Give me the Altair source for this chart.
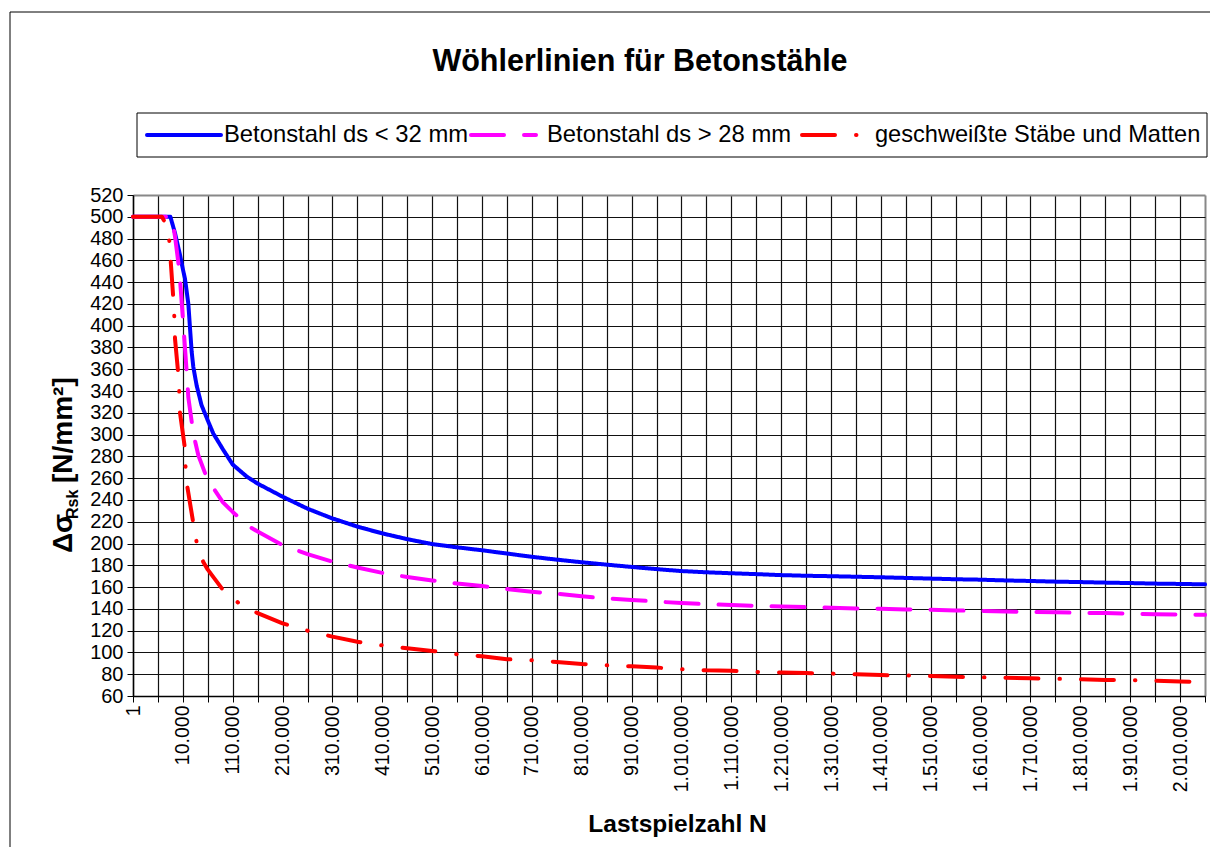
import altair as alt
import pandas as pd

FONT = "Liberation Sans"

SERIES = ["Betonstahl ds < 32 mm", "Betonstahl ds > 28 mm", "geschweißte Stäbe und Matten"]
COLORS = ["#0000FF", "#FF00FF", "#FF0000"]
DASHES = [[1, 0], [33, 20], [33, 21, 0.5, 21]]

# category positions 210.000 ... 2.060.000 (one every vertical grid line)
GRID_N = list(range(210000, 2060001, 50000))

blue_N = [1, 7500, 8425, 9425, 10000, 14300, 21000, 24300, 27700, 31000, 37700,
          47500, 60000, 71000, 91000, 110000, 138000, 160000] + GRID_N
blue_S = [500, 500, 485, 465, 452, 443, 420, 398, 376, 362, 345,
          327, 313, 301, 286, 272.5, 261.5, 255,
          243, 232, 223, 215.5, 209.3, 204, 199.5, 196.5,
          193.8, 190.8, 187.8, 185.2, 182.8, 180.6, 178.5, 176.5, 174.7,
          173.6, 172.7, 171.9, 171.0, 170.4, 170.0,
          169.5, 169.0, 168.4, 167.8, 167.2, 166.8, 166.1, 165.6, 165.0,
          164.6, 164.1, 163.7, 163.2, 162.9, 162.5]

mag_N = [1, 7750, 8425, 9290, 10950, 19000, 21000, 31000, 41000, 60000, 71100,
         90000, 110000, 141300, 160000] + GRID_N
mag_S = [500, 500, 482, 451, 401, 349, 334, 301, 281, 258, 251,
         238, 229, 216, 211,
         198.5, 190.3, 183.4, 178, 173, 169.3, 166, 163.2,
         161, 158.2, 155.7, 153.9, 151.5, 149.6, 148.2, 146.7, 145.3,
         144.3, 143.5, 142.8, 142.1, 141.6, 141.0,
         140.3, 140.0, 139.4, 139.1, 138.5, 138.2, 137.6, 137.3, 136.8,
         136.4, 136.1, 135.5, 135.1, 134.8, 134.5]

red_N = [1, 5800, 6750, 7250, 7600, 8100, 8300, 8425, 9090, 9290, 9425, 10000,
         14300, 15500, 19000, 31000, 37700, 51000, 60000, 91150, 110000, 121200,
         160000] + GRID_N
red_S = [500, 500, 492, 480, 457, 424, 407, 388, 355, 338, 320, 301,
         287, 269, 252, 218.5, 201, 183, 176, 157, 150, 145.6,
         136,
         126.7, 120, 114.5, 109.8, 106.5, 103.8, 101.4, 98.3,
         96.5, 93.8, 92.8, 91.3, 89.4, 88.2, 87.3, 86.1, 84.6,
         83.6, 83.2, 82.1, 81.5, 81.1, 80.6,
         80.0, 79.2, 78.9, 78.3, 77.7, 77.2, 76.7, 76.2, 75.8,
         75.4, 74.8, 74.6, 74.0, 73.3, 73.0]

Y_TICKS = list(range(60, 521, 20))
X_TICKS = list(range(0, 44))  # category tick positions (every 50.000 after 10.000)

rows = []
for name, ns, ss in zip(SERIES, [blue_N, mag_N, red_N], [blue_S, mag_S, red_S]):
    for n, s in zip(ns, ss):
        rows.append({"series": name, "N": n, "S": s})
df = pd.DataFrame(rows)

x_label_expr = ("datum.value == 0 ? '1' : (datum.value % 2 == 0 ? "
                "replace(format(10000 + (datum.value - 2) * 50000, ','), regexp(',', 'g'), '.') : '')")

lines = alt.Chart(df).transform_calculate(
    pos="datum.N < 10000 ? 2 * (datum.N - 1) / 9999 : 2 + (datum.N - 10000) / 50000"
).mark_line(strokeWidth=4, strokeCap="round", strokeJoin="round").encode(
    x=alt.X("pos:Q", scale=alt.Scale(domain=[0, 43], nice=False, zero=False),
            axis=alt.Axis(values=X_TICKS, labelExpr=x_label_expr, labelAngle=270,
                          labelFontSize=19.5, labelPadding=3, labelOverlap=False,
                          labelFlush=False, tickSize=6, tickColor="black",
                          domainColor="black", domainWidth=1.5,
                          grid=True,
                          gridColor={"condition": {"test": "datum.value == 43", "value": "#888888"},
                                     "value": "#111111"},
                          gridWidth={"condition": {"test": "datum.value == 43", "value": 2},
                                     "value": 1.2},
                          title="Lastspielzahl N", titleFontSize=24.5, titleFontWeight="bold",
                          titleX=544, titleY=135, titleBaseline="alphabetic", titleAlign="center",
                          titleAngle=0)),
    y=alt.Y("S:Q", scale=alt.Scale(domain=[60, 520], nice=False, zero=False),
            axis=alt.Axis(values=Y_TICKS, labelFontSize=20, labelPadding=4, labelOverlap=False,
                          labelFlush=False, tickSize=6, tickColor="black",
                          domainColor="black", domainWidth=1.5,
                          grid=True,
                          gridColor={"condition": {"test": "datum.value == 520", "value": "#888888"},
                                     "value": "#111111"},
                          gridWidth={"condition": {"test": "datum.value == 520", "value": 2},
                                     "value": 1.2},
                          title=None)),
    color=alt.Color("series:N", scale=alt.Scale(domain=SERIES, range=COLORS), legend=None),
    strokeDash=alt.StrokeDash("series:N", scale=alt.Scale(domain=SERIES, range=DASHES), legend=None),
)

one = alt.Data(values=[{"k": 1}])


def label(text, x, y, size, angle=0, align="left", baseline="alphabetic", bold=True):
    return alt.Chart(one).mark_text(
        text=text, font=FONT, fontSize=size, fontWeight="bold" if bold else "normal",
        angle=angle, align=align, baseline=baseline, color="black"
    ).encode(x=alt.value(x), y=alt.value(y))


def seg(x1, x2, y, color, dash):
    return alt.Chart(one).mark_rule(
        color=color, strokeWidth=4, strokeDash=dash, strokeCap="round"
    ).encode(x=alt.value(x1), x2=alt.value(x2), y=alt.value(y))


# outer frame (left and top edges visible), kept inside the page
frame_left = alt.Chart(one).mark_rule(color="black", strokeWidth=1).encode(
    x=alt.value(-123), y=alt.value(-183), y2=alt.value(652))
frame_top = alt.Chart(one).mark_rule(color="black", strokeWidth=1).encode(
    x=alt.value(-123), x2=alt.value(1078), y=alt.value(-183))

# legend (drawn by hand: a box, three line samples, three labels)
LEG_Y = -60
legend_box = alt.Chart(one).mark_rect(fill="white", stroke="black", strokeWidth=1).encode(
    x=alt.value(4), x2=alt.value(1074), y=alt.value(-82), y2=alt.value(-38))
leg_items = [
    seg(14, 88, LEG_Y, COLORS[0], DASHES[0]),
    label(SERIES[0], 91, LEG_Y, 23.8, baseline="middle", bold=False),
    seg(338, 403, LEG_Y, COLORS[1], DASHES[1]),
    label(SERIES[1], 414, LEG_Y, 23.8, baseline="middle", bold=False),
    seg(669, 724, LEG_Y, COLORS[2], DASHES[2]),
    label(SERIES[2], 742, LEG_Y, 23.6, baseline="middle", bold=False),
]

title = label("Wöhlerlinien für Betonstähle", 507, -124, 30.5, align="center")
yt1 = label("Δσ", -61, 358, 28, angle=270)
yt2 = label("Rsk", -55, 324, 16, angle=270)
yt3 = label("[N/mm²]", -61, 288, 28, angle=270)

chart = alt.layer(frame_left, frame_top, lines, legend_box, *leg_items,
                  title, yt1, yt2, yt3).properties(
    width=1072, height=501,
    padding={"left": 125, "top": 187, "right": 5, "bottom": 152},
    autosize=alt.AutoSizeParams(type="none"),
    background="white",
).configure_view(strokeOpacity=0).configure_axis(
    labelFont=FONT, titleFont=FONT, labelColor="black", titleColor="black"
)

chart.save("out.html", embed_options={"renderer": "svg", "actions": False})
